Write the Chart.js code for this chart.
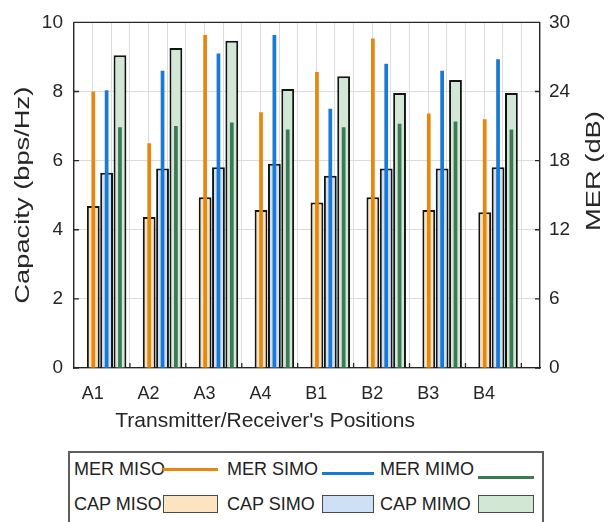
<!DOCTYPE html>
<html>
<head>
<meta charset="utf-8">
<script src="https://cdn.jsdelivr.net/npm/chart.js@4.4.1/dist/chart.umd.min.js"></script>
<style>
  html, body { margin: 0; padding: 0; background: #fff; overflow: hidden; }
  body { font-family: "Liberation Sans", Arial, sans-serif; color: #222; }
  #wrap { position: relative; width: 609px; height: 522px; }
  #legend {
    position: absolute; left: 68px; top: 451px; width: 476px; height: 90px;
    border: 2px solid #5e5e5e; box-sizing: border-box; background: #fff;
  }
  #legend .lbl { position: absolute; font-size: 18px; line-height: 20px; white-space: nowrap; }
  #legend .sw { position: absolute; box-sizing: border-box; }
  #legend .sw.line { height: 3px; }
  #legend .sw.box { height: 18px; border: 1.5px solid #4a4a4a; }
</style>
</head>
<body>
<div id="wrap">
  <canvas id="chart"></canvas>
  <div id="legend"></div>
</div>
<script>
const positions = ["A1", "A2", "A3", "A4", "B1", "B2", "B3", "B4"];

// capacity (bps/Hz), left axis
const capMiso = [4.69, 4.37, 4.94, 4.57, 4.79, 4.94, 4.57, 4.51];
const capSimo = [5.65, 5.77, 5.81, 5.91, 5.56, 5.77, 5.77, 5.81];
const capMimo = [9.05, 9.26, 9.47, 8.07, 8.44, 7.96, 8.33, 7.96];

// MER (dB), right axis
const merMiso = [24.0, 19.5, 28.9, 22.2, 25.7, 28.6, 22.1, 21.6];
const merSimo = [24.1, 25.8, 27.3, 28.9, 22.5, 26.4, 25.8, 26.8];
const merMimo = [20.9, 21.0, 21.3, 20.7, 20.9, 21.2, 21.4, 20.7];

const capTicks = [0, 2, 4, 6, 8, 10];
const merTicks = [0, 6, 12, 18, 24, 30];

const AXIS = "#262626";
const GRID = "#dcdcdc";
const FONT = '"Liberation Sans", Arial, sans-serif';

// each position spans 3 grid steps; labels sit on the first step, the bar group a bit to the right
const labelX = positions.map((_, i) => 3 * i + 1);
const groupX = positions.map((_, i) => 3 * i + 1.75);
const pts = vals => vals.map((y, i) => ({ x: groupX[i], y }));

Chart.defaults.font.family = FONT;
Chart.defaults.color = AXIS;

function merSet(label, data, stack, color) {
  return {
    label, data: pts(data), stack, xAxisID: "xb", yAxisID: "y2",
    backgroundColor: color, borderWidth: 0, barPercentage: 0.28,
  };
}

function capSet(label, data, stack, fill) {
  return {
    label, data: pts(data), stack, xAxisID: "xb", yAxisID: "y",
    backgroundColor: fill, borderColor: "#141414", borderWidth: 2, barPercentage: 0.96,
  };
}

function drawVertical(ctx, text, x, y) {
  ctx.save();
  ctx.translate(x, y);
  ctx.rotate(-Math.PI / 2);
  ctx.scale(1.3, 1);
  ctx.fillText(text, 0, 0);
  ctx.restore();
}

// inward tick marks, top frame line and the axis titles
const frame = {
  id: "frame",
  afterDraw(chart) {
    const { ctx, chartArea: a, scales } = chart;
    ctx.save();
    ctx.strokeStyle = AXIS;
    ctx.lineWidth = 1.3;
    ctx.beginPath();
    ctx.moveTo(a.left, a.top);
    ctx.lineTo(a.right, a.top);
    scales.y.ticks.forEach(t => {
      const py = scales.y.getPixelForValue(t.value);
      ctx.moveTo(a.left, py);
      ctx.lineTo(a.left + 5, py);
    });
    scales.y2.ticks.forEach(t => {
      const py = scales.y2.getPixelForValue(t.value);
      ctx.moveTo(a.right, py);
      ctx.lineTo(a.right - 5, py);
    });
    scales.x.ticks.forEach(t => {
      if (t.value % 3 !== 0 || t.value <= 0 || t.value >= 25) return;
      const px = scales.x.getPixelForValue(t.value);
      ctx.moveTo(px, a.bottom);
      ctx.lineTo(px, a.bottom - 5);
    });
    ctx.stroke();

    ctx.fillStyle = AXIS;
    ctx.textAlign = "center";
    ctx.textBaseline = "middle";
    ctx.font = `21px ${FONT}`;
    ctx.fillText("Transmitter/Receiver's Positions", a.left + (a.right - a.left) * 0.41, 421.5);
    drawVertical(ctx, "Capacity (bps/Hz)", 23, (a.top + a.bottom) / 2);
    drawVertical(ctx, "MER (dB)", 594, a.top + (a.bottom - a.top) * 0.43);
    ctx.restore();
  },
};

const chart = new Chart(document.getElementById("chart"), {
  type: "bar",
  data: {
    datasets: [
      merSet("MER MISO", merMiso, "miso", "#e8870f"),
      merSet("MER SIMO", merSimo, "simo", "#1a79d2"),
      merSet("MER MIMO", merMimo, "mimo", "#3c7a55"),
      capSet("CAP MISO", capMiso, "miso", "#fce4c0"),
      capSet("CAP SIMO", capSimo, "simo", "#cde0f6"),
      capSet("CAP MIMO", capMimo, "mimo", "#d2e8d4"),
    ],
  },
  options: {
    responsive: true,
    maintainAspectRatio: false,
    animation: false,
    events: [],
    layout: { padding: { top: 15, bottom: 84, left: 0, right: 0 } },
    datasets: { bar: { categoryPercentage: 0.716 } },
    plugins: { legend: { display: false }, tooltip: { enabled: false } },
    scales: {
      xb: {
        axis: "x", type: "linear", display: false, min: 0, max: 25,
        offset: false, grid: { offset: false },
        ticks: { stepSize: 25 },
      },
      x: {
        type: "linear", position: "bottom", min: 0, max: 25, offset: false,
        afterFit: s => { s.height = 70; },
        grid: { color: GRID, drawTicks: false, offset: false },
        border: { display: true, color: AXIS, width: 1.3 },
        ticks: {
          stepSize: 1, maxTicksLimit: 40, autoSkip: false, maxRotation: 0,
          padding: 15, font: { size: 18 }, color: AXIS,
          callback: v => {
            const i = labelX.indexOf(v);
            return i >= 0 ? positions[i] : "";
          },
        },
      },
      y: {
        position: "left", min: 0, max: 10, stacked: false,
        afterFit: s => { s.width = 74; },
        afterBuildTicks: s => { s.ticks = capTicks.map(value => ({ value })); },
        grid: { color: GRID, drawTicks: false },
        border: { display: true, color: AXIS, width: 1.3 },
        ticks: { padding: 11, font: { size: 19 }, color: AXIS },
      },
      y2: {
        position: "right", min: 0, max: 30, stacked: false,
        afterFit: s => { s.width = 69; },
        afterBuildTicks: s => { s.ticks = merTicks.map(value => ({ value })); },
        grid: { drawOnChartArea: false, drawTicks: false },
        border: { display: true, color: AXIS, width: 1.3 },
        ticks: { padding: 9, font: { size: 19 }, color: AXIS },
      },
    },
  },
  plugins: [frame],
});

// ── Legend (text first, sample after, three columns) ─────────────────────────

const TXT_LEFT = [4, 157, 310];
const ROW_TOP = [6, 41];
const SW_LEFT = [93, 252, 408];
const SW_WIDTH = [55, 52, 56];
const LINE_TOP = [15, 19, 23];

function renderLegend(c) {
  document.getElementById("legend").innerHTML = c.data.datasets.map((ds, i) => {
    const row = Math.floor(i / 3);
    const col = i % 3;
    const sw = ds.yAxisID === "y2"
      ? `<span class="sw line" style="left:${SW_LEFT[col]}px;top:${LINE_TOP[col]}px;width:${SW_WIDTH[col]}px;background:${ds.backgroundColor}"></span>`
      : `<span class="sw box" style="left:${SW_LEFT[col]}px;top:42px;width:${SW_WIDTH[col]}px;background:${ds.backgroundColor}"></span>`;
    return `<span class="lbl" style="left:${TXT_LEFT[col]}px;top:${ROW_TOP[row]}px">${ds.label}</span>${sw}`;
  }).join("");
}

renderLegend(chart);
</script>
</body>
</html>
